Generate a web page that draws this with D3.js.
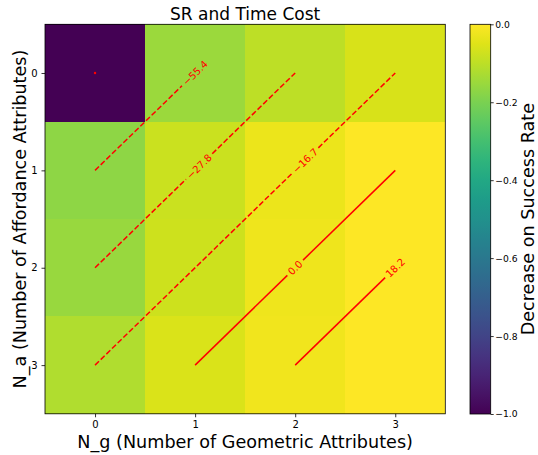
<!DOCTYPE html>
<html>
<head>
<meta charset="utf-8">
<script src="https://cdn.jsdelivr.net/npm/d3@7"></script>
<style>
  body { margin: 0; background: #fff; }
  svg { display: block; font-family: "DejaVu Sans", sans-serif; }
</style>
</head>
<body>
<svg id="chart" width="538" height="455"></svg>
<script>
// == Daten ==
const gAttrs = [0, 1, 2, 3];   // N_g (Spalten)
const aAttrs = [0, 1, 2, 3];   // N_a (Zeilen)

// Abnahme der Erfolgsrate, Zeile = N_a, Spalte = N_g
const srDecrease = [
    [-1.0, -0.15, -0.10, -0.06],
    [-0.17, -0.08, -0.03, 0.0],
    [-0.155, -0.075, -0.025, 0.0],
    [-0.12, -0.055, -0.02, 0.0]
];

// Zeitkosten (Konturen)
const timeCost = [
    [-83.3, -55.4, -27.8, -16.7],
    [-55.4, -27.8, -16.7, 0.0],
    [-27.8, -16.7, 0.0, 18.2],
    [-16.7, 0.0, 18.2, 36.4]
];
const contourLevels = [-83.3, -55.4, -27.8, -16.7, 0.0, 18.2];
// Wo das Label auf der Linie sitzt (Anteil von unten links), null = kein Label
const labelAt = [null, 1.0, 0.52, 0.70, 0.5, 1.0];

const colorbarTicks = [0.0, -0.2, -0.4, -0.6, -0.8, -1.0];

// == Layout ==
const svg = d3.select('#chart');
const plotLeft = 45, plotRight = 445.3, plotTop = 24.3, plotBottom = 413.8;
const LABEL_SIZE = 17.6;

const x = d3.scaleLinear().domain([-0.5, 3.5]).range([plotLeft, plotRight]);
const y = d3.scaleLinear().domain([-0.5, 3.5]).range([plotTop, plotBottom]);
const color = d3.scaleSequential(d3.interpolateViridis).domain([-1, 0]);

// Heatmap
const cells = [];
aAttrs.forEach((a, i) => gAttrs.forEach((g, j) => cells.push({g: g, a: a, v: srDecrease[i][j]})));

svg.append('g')
    .selectAll('rect')
    .data(cells)
    .enter()
    .append('rect')
    .attr('x', d => x(d.g - 0.5))
    .attr('y', d => y(d.a - 0.5))
    .attr('width', d => x(d.g + 0.5) - x(d.g - 0.5))
    .attr('height', d => y(d.a + 0.5) - y(d.a - 0.5))
    .attr('fill', d => color(d.v))
    .attr('shape-rendering', 'crispEdges');

// Konturlinien
const fmt = d3.format('.1f');
const contour = svg.append('g');
contourLevels.forEach((lvl, i) => {
    let pts = [];
    aAttrs.forEach((a, r) => gAttrs.forEach((g, c) => {
        if (timeCost[r][c] === lvl) pts.push([g, a]);
    }));
    pts.sort((p, q) => p[0] - q[0]);
    const px = pts.map(p => [x(p[0]), y(p[1])]);
    if (px.length === 0) return;
    if (px.length === 1) {
        contour.append('circle')
            .attr('cx', px[0][0]).attr('cy', px[0][1]).attr('r', 1.2)
            .attr('fill', 'red');
        return;
    }
    const start = px[0], end = px[px.length - 1];
    const dx = end[0] - start[0], dy = end[1] - start[1];
    const len = Math.hypot(dx, dy);
    const angle = Math.atan2(dy, dx) * 180 / Math.PI;
    const at = t => [start[0] + dx * t / len, start[1] + dy * t / len];
    const drawSeg = (t0, t1) => {
        const p0 = at(t0), p1 = at(t1);
        contour.append('line')
            .attr('x1', p0[0]).attr('y1', p0[1])
            .attr('x2', p1[0]).attr('y2', p1[1])
            .attr('stroke', 'red')
            .attr('stroke-width', 1.5)
            .attr('stroke-dasharray', lvl < 0 ? '5.5,2.4' : null);
    };
    if (labelAt[i] === null) {
        drawSeg(0, len);
        return;
    }
    const c = at(labelAt[i] * len);
    const label = contour.append('text')
        .attr('transform', `translate(${c[0]},${c[1]}) rotate(${angle})`)
        .attr('text-anchor', 'middle')
        .attr('dy', '0.36em')
        .attr('font-size', 10)
        .attr('fill', 'red')
        .text(fmt(lvl));
    const gap = label.node().getComputedTextLength() / 2 + 3;
    const t0 = labelAt[i] * len - gap, t1 = labelAt[i] * len + gap;
    if (t0 > 0) drawSeg(0, t0);
    if (t1 < len) drawSeg(t1, len);
});

// Rahmen
svg.append('rect')
    .attr('x', plotLeft).attr('y', plotTop)
    .attr('width', plotRight - plotLeft).attr('height', plotBottom - plotTop)
    .attr('fill', 'none').attr('stroke', '#000').attr('stroke-width', 0.8);

// Achsen
const xAxis = svg.append('g')
    .attr('transform', `translate(0,${plotBottom})`)
    .call(d3.axisBottom(x).tickValues(gAttrs).tickFormat(d3.format('d')).tickSize(3.5).tickPadding(3.5));
const yAxis = svg.append('g')
    .attr('transform', `translate(${plotLeft},0)`)
    .call(d3.axisLeft(y).tickValues(aAttrs).tickFormat(d3.format('d')).tickSize(3.5).tickPadding(4));
[xAxis, yAxis].forEach(ax => {
    ax.select('.domain').remove();
    ax.selectAll('line').attr('stroke', '#000').attr('stroke-width', 0.8);
    ax.selectAll('text').attr('font-size', 10).attr('fill', '#000').attr('font-family', 'DejaVu Sans');
});

// Titel & Achsenbeschriftung
svg.append('text')
    .attr('x', (plotLeft + plotRight) / 2).attr('y', 19.5)
    .attr('text-anchor', 'middle').attr('font-size', 17)
    .text('SR and Time Cost');
svg.append('text')
    .attr('x', (plotLeft + plotRight) / 2).attr('y', 448)
    .attr('text-anchor', 'middle').attr('font-size', LABEL_SIZE)
    .text('N_g (Number of Geometric Attributes)');
svg.append('text')
    .attr('transform', `translate(26,${(plotTop + plotBottom) / 2}) rotate(-90)`)
    .attr('text-anchor', 'middle').attr('font-size', LABEL_SIZE)
    .text('N_a (Number of Affordance Attributes)');

// == Colorbar ==
const cbLeft = 470, cbRight = 490.7;
const cbScale = d3.scaleLinear().domain([-1, 0]).range([414, 24.3]);
const grad = svg.append('defs').append('linearGradient')
    .attr('id', 'viridisGrad')
    .attr('x1', 0).attr('y1', 1).attr('x2', 0).attr('y2', 0);
d3.range(0, 1.0001, 0.05).forEach(t => {
    grad.append('stop').attr('offset', t).attr('stop-color', d3.interpolateViridis(t));
});
svg.append('rect')
    .attr('x', cbLeft).attr('y', cbScale(0))
    .attr('width', cbRight - cbLeft).attr('height', cbScale(-1) - cbScale(0))
    .attr('fill', 'url(#viridisGrad)')
    .attr('stroke', '#000').attr('stroke-width', 0.8);
const cbAxis = svg.append('g')
    .attr('transform', `translate(${cbRight},0)`)
    .call(d3.axisRight(cbScale).tickValues(colorbarTicks).tickFormat(d3.format('.1f')).tickSize(3).tickPadding(1.5));
cbAxis.select('.domain').remove();
cbAxis.selectAll('line').attr('stroke', '#000').attr('stroke-width', 0.8);
cbAxis.selectAll('text').attr('font-size', 9.2).attr('fill', '#000').attr('font-family', 'DejaVu Sans');

svg.append('text')
    .attr('transform', `translate(533.6,${(cbScale(0) + cbScale(-1)) / 2}) rotate(-90)`)
    .attr('text-anchor', 'middle').attr('font-size', LABEL_SIZE)
    .text('Decrease on Success Rate');
</script>
</body>
</html>
